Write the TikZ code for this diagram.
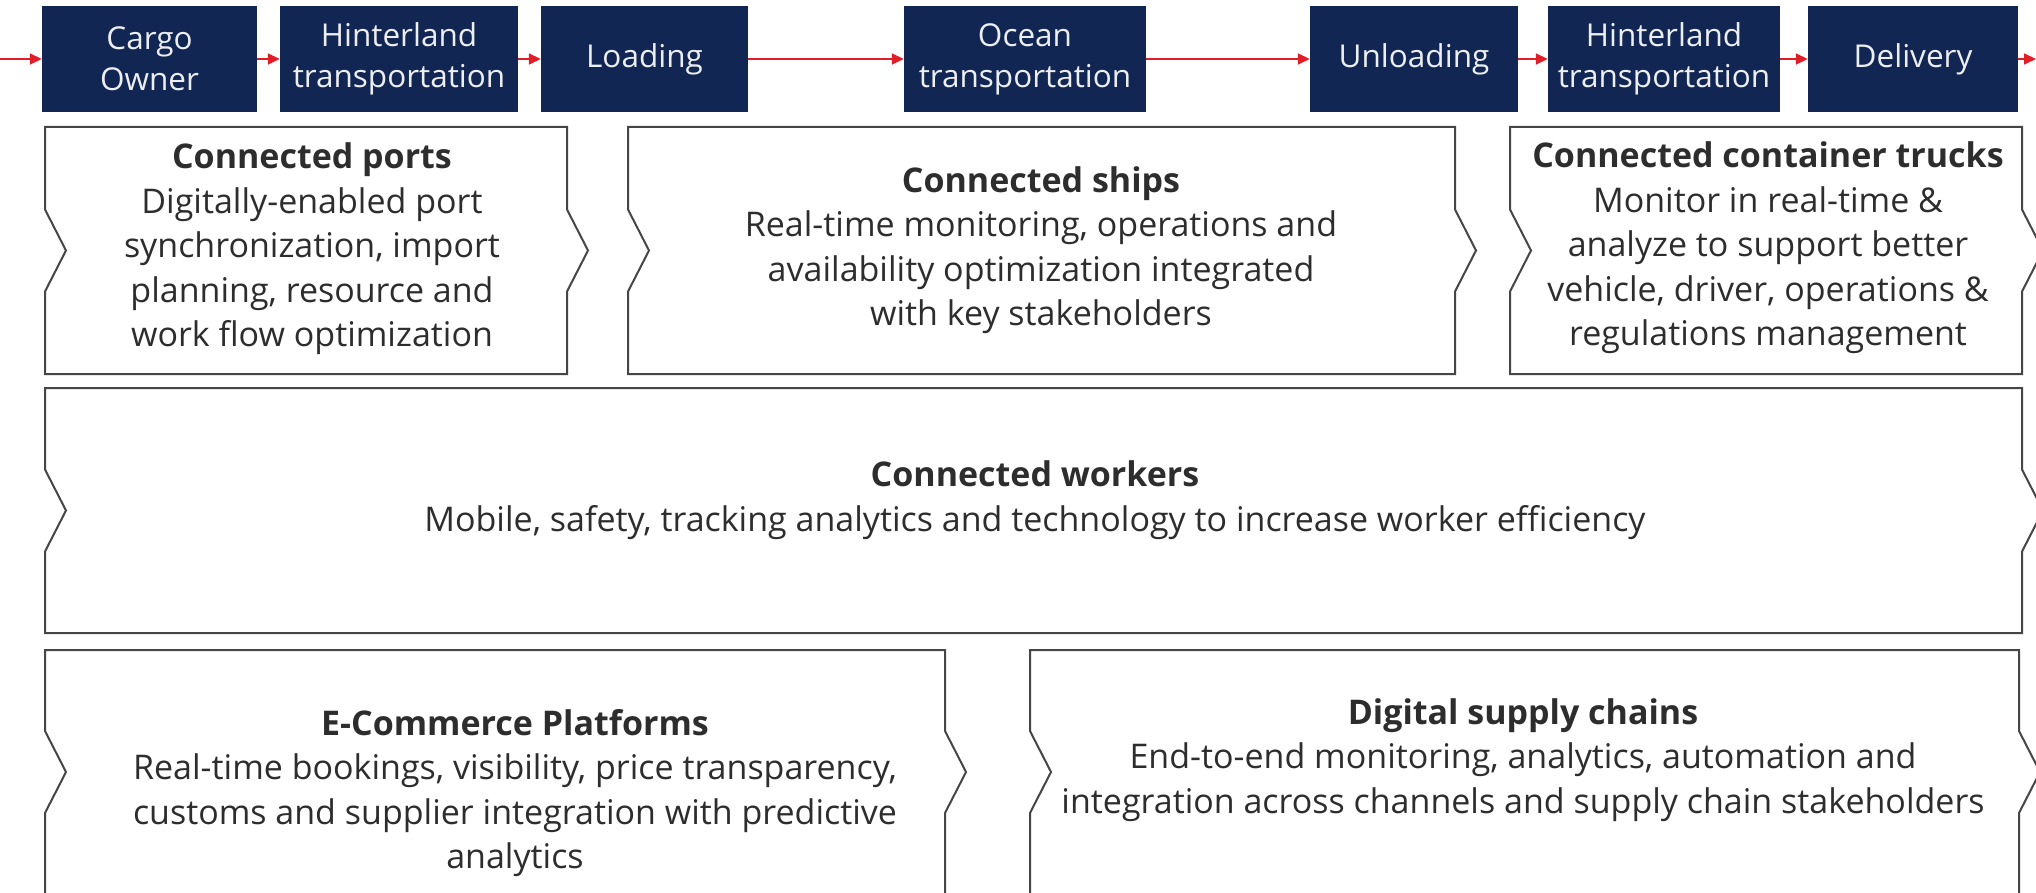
\documentclass[tikz,border=0pt]{standalone}
\usepackage{fontspec}
\setmainfont{Open Sans}
\usetikzlibrary{arrows.meta}

\definecolor{navy}{RGB}{17,38,82}
\definecolor{flowred}{RGB}{225,30,40}
\definecolor{edge}{RGB}{70,70,70}
\definecolor{ink}{RGB}{45,45,45}

\begin{document}
\begin{tikzpicture}[x = 1pt, y = -1pt,
	stage/.style = {fill = navy, text = white!92!navy, minimum height = 106pt, inner sep = 0pt, align = center, font = \fontsize{31.5}{41}\selectfont},
	flow/.style = {draw = flowred, line width = 1.6pt, -{Triangle[length = 12pt, width = 11pt]}},
	panel/.style = {draw = edge, fill = white, line width = 2pt},
	blurb/.style = {align = center, text = ink, inner sep = 0pt, font = \fontsize{34}{44.5}\selectfont}]
	
		\useasboundingbox (0, 0) rectangle (2036, 893);
		\fill[white] (0, 0) rectangle (2036, 893);
		\clip (0, 0) rectangle (2036, 893);
		
		% value chain
		\coordinate (in) at (0, 59);
		\coordinate (out) at (2036, 59);
		\node[stage, minimum width = 215pt] (cargo) at (149.5, 59) {Cargo\\Owner};
		\node[stage, minimum width = 238pt] (hinter1) at (399, 59) {Hinterland\\transportation};
		\node[stage, minimum width = 207pt] (loading) at (644.5, 59) {Loading};
		\node[stage, minimum width = 242pt] (ocean) at (1025, 59) {Ocean\\transportation};
		\node[stage, minimum width = 208pt] (unloading) at (1414, 59) {Unloading};
		\node[stage, minimum width = 232pt] (hinter2) at (1664, 59) {Hinterland\\transportation};
		\node[stage, minimum width = 210pt] (delivery) at (1913, 59) {Delivery};
		
		\draw[flow] (in) -- (cargo);
		\draw[flow] (cargo) -- (hinter1);
		\draw[flow] (hinter1) -- (loading);
		\draw[flow] (loading) -- (ocean);
		\draw[flow] (ocean) -- (unloading);
		\draw[flow] (unloading) -- (hinter2);
		\draw[flow] (hinter2) -- (delivery);
		\draw[flow] (delivery) -- (out);
		
		% panels
		\filldraw[panel] (45, 127) -- (567, 127) -- (567, 209.5) -- (588, 250.5) -- (567, 291.5) -- (567, 374) -- (45, 374) -- (45, 291.5) -- (66, 250.5) -- (45, 209.5) -- cycle;
		\filldraw[panel] (628, 127) -- (1455, 127) -- (1455, 209.5) -- (1476, 250.5) -- (1455, 291.5) -- (1455, 374) -- (628, 374) -- (628, 291.5) -- (649, 250.5) -- (628, 209.5) -- cycle;
		\filldraw[panel] (1510, 127) -- (2022, 127) -- (2022, 209.5) -- (2043, 250.5) -- (2022, 291.5) -- (2022, 374) -- (1510, 374) -- (1510, 291.5) -- (1531, 250.5) -- (1510, 209.5) -- cycle;
		\filldraw[panel] (45, 388) -- (2022, 388) -- (2022, 469.5) -- (2043, 510.5) -- (2022, 551.5) -- (2022, 633) -- (45, 633) -- (45, 551.5) -- (66, 510.5) -- (45, 469.5) -- cycle;
		\filldraw[panel] (45, 650) -- (945, 650) -- (945, 731) -- (966, 772) -- (945, 813) -- (945, 894) -- (45, 894) -- (45, 813) -- (66, 772) -- (45, 731) -- cycle;
		\filldraw[panel] (1030, 650) -- (2019, 650) -- (2019, 731) -- (2040, 772) -- (2019, 813) -- (2019, 894) -- (1030, 894) -- (1030, 813) -- (1051, 772) -- (1030, 731) -- cycle;
		
		\node[blurb] (ports) at (312, 249) {\textbf{Connected ports}\\Digitally-enabled port\\synchronization, import\\planning, resource and\\work flow optimization};
		\node[blurb] (ships) at (1041, 250) {\textbf{Connected ships}\\Real-time monitoring, operations and\\availability optimization integrated\\with key stakeholders};
		\node[blurb] (trucks) at (1768, 248) {\textbf{Connected container trucks}\\Monitor in real-time \&\\analyze to support better\\vehicle, driver, operations \&\\regulations management};
		\node[blurb] (workers) at (1035, 500) {\textbf{Connected workers}\\Mobile, safety, tracking analytics and technology to increase worker efficiency};
		\node[blurb] (ecommerce) at (515, 793) {\textbf{E-Commerce Platforms}\\Real-time bookings, visibility, price transparency,\\customs and supplier integration with predictive\\analytics};
		\node[blurb] (chains) at (1523, 760) {\textbf{Digital supply chains}\\End-to-end monitoring, analytics, automation and\\integration across channels and supply chain stakeholders};
	
	\end{tikzpicture}
\end{document}
